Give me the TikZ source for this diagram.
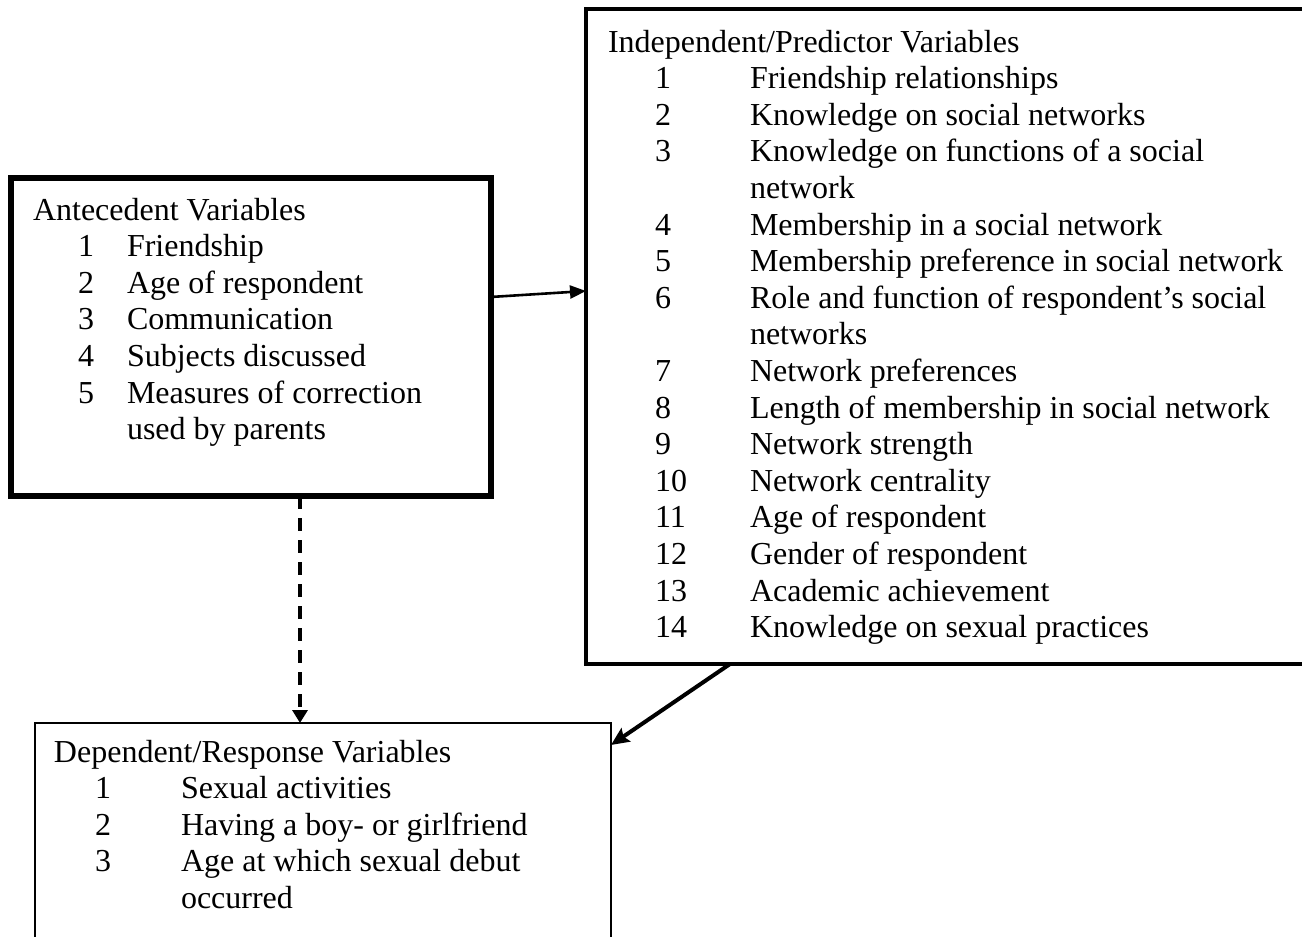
\documentclass[tikz,border=0pt]{standalone}
\usepackage{fontspec}
\setmainfont{Liberation Serif}
\usetikzlibrary{arrows.meta,calc}

\begin{document}
\begin{tikzpicture}[x=0.5pt,y=-0.5pt,
  box/.style={draw,inner sep=0pt,outer sep=0pt,anchor=north west},
  txt/.style={anchor=base west,inner sep=0pt,outer sep=0pt,font=\fontsize{16}{18.3}\selectfont},
  link/.style={draw,line cap=butt}
]
\useasboundingbox (0,0) rectangle (1302,937);
\clip (0,0) rectangle (1302,937);

% the three boxes
\node[box,line width=3pt,minimum width=239.75pt,minimum height=159pt] (ante) at (11,178) {};
\node[box,line width=2pt,minimum width=372pt,minimum height=327.5pt] (ind) at (586,9) {};
\node[box,line width=1.4pt,minimum width=288pt,minimum height=130pt] (dep) at (35,723) {};

% antecedent variables
\node[txt] (antetitle) at (33,220) {Antecedent Variables};
\foreach \num/\str [count=\k from 1] in {1/Friendship,2/Age of respondent,3/Communication,
    4/Subjects discussed,5/Measures of correction,/used by parents}{
  \node[txt] (anten\k) at (78,{220+36.6*\k}) {\num};
  \node[txt] (antet\k) at (127,{220+36.6*\k}) {\str};
}

% independent / predictor variables
\node[txt] (indtitle) at (608,52) {Independent/Predictor Variables};
\foreach \num/\str [count=\k from 1] in {1/Friendship relationships,
    2/Knowledge on social networks,3/Knowledge on functions of a social,/network,
    4/Membership in a social network,5/Membership preference in social network,
    6/Role and function of respondent’s social,/networks,7/Network preferences,
    8/Length of membership in social network,9/Network strength,10/Network centrality,
    11/Age of respondent,12/Gender of respondent,13/Academic achievement,
    14/Knowledge on sexual practices}{
  \node[txt] (indn\k) at (655,{52+36.6*\k}) {\num};
  \node[txt] (indt\k) at (750,{52+36.6*\k}) {\str};
}

% dependent / response variables
\node[txt] (deptitle) at (54,762) {Dependent/Response Variables};
\foreach \num/\str [count=\k from 1] in {1/Sexual activities,2/Having a boy- or girlfriend,
    3/Age at which sexual debut,/occurred}{
  \node[txt] (depn\k) at (95,{762+36.6*\k}) {\num};
  \node[txt] (dept\k) at (181,{762+36.6*\k}) {\str};
}

% connectors
\draw[link,line width=1.3pt,-{Triangle[length=8pt,width=6.5pt]}]
  ($(ante.north east)+(0,119)$) -- ($(ind.north west)+(0,282)$);
\draw[link,line width=2pt,-{Stealth[length=9pt,width=8pt,inset=1.5pt]}]
  ($(ind.south west)+(144,0)$) -- ($(dep.north east)+(0,22)$);
\coordinate (dashtop) at ($(ante.south west)+(289,0)$);
\draw[link,line width=2pt,dash pattern=on 6.5pt off 4.5pt,-{Triangle[length=6.5pt,width=7.5pt]}]
  (dashtop) -- (dashtop |- dep.north);
\end{tikzpicture}
\end{document}
